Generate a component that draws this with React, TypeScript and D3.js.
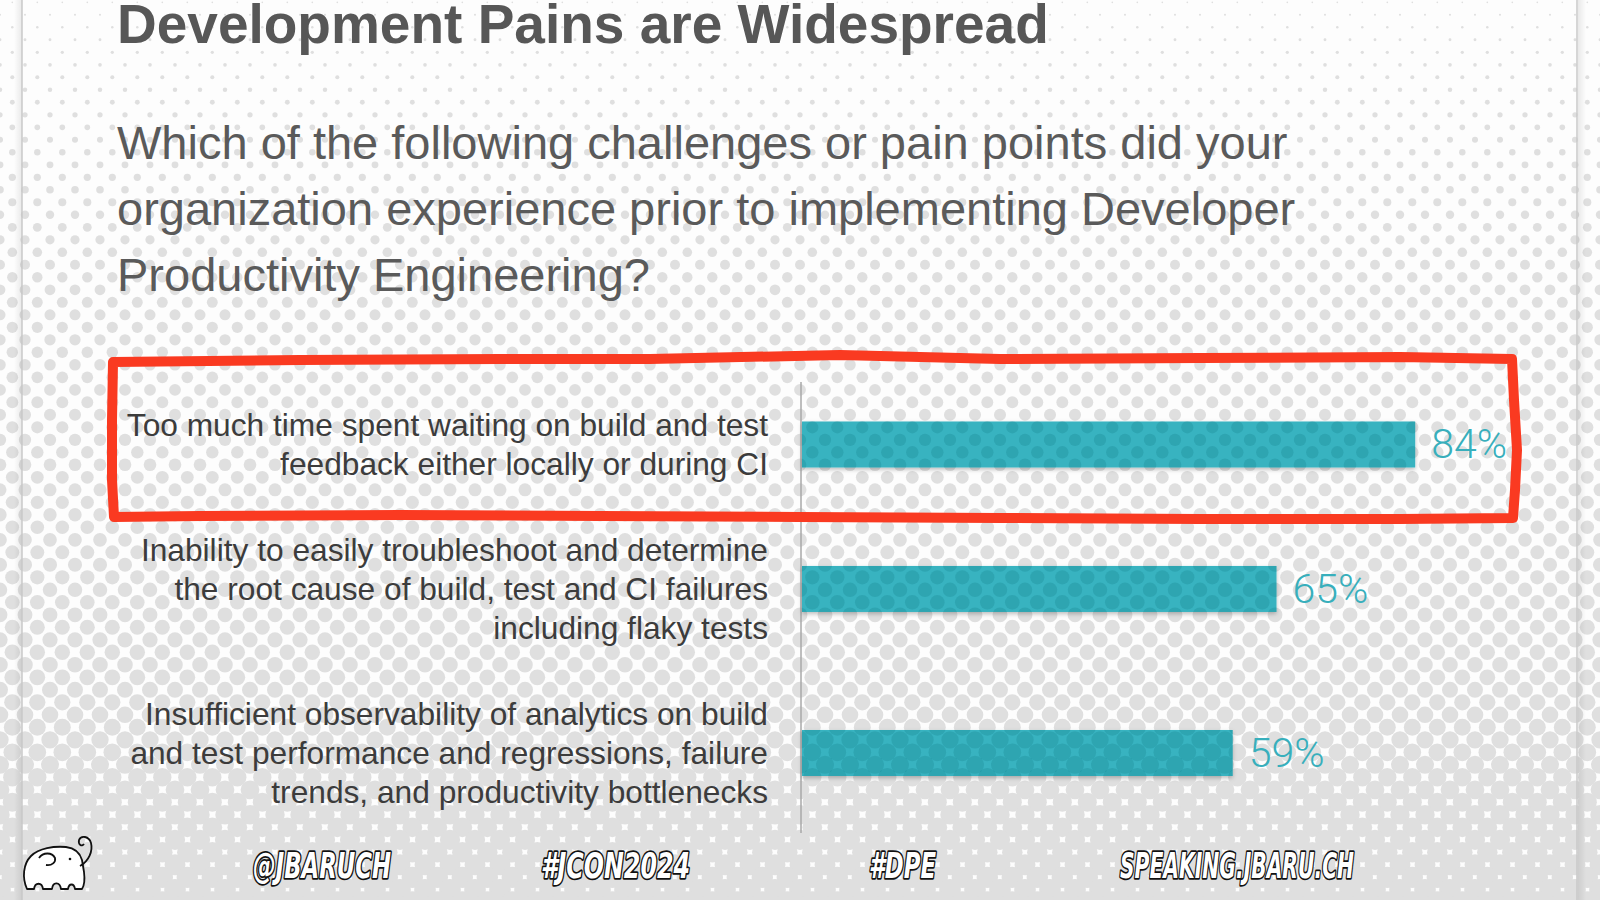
import React, { useMemo } from "react";
import * as d3 from "d3";

const W = 1600;
const H = 900;

// ---------- data ----------
const title = "Development Pains are Widespread";
const subtitleLines = [
  "Which of the following challenges or pain points did your",
  "organization experience prior to implementing Developer",
  "Productivity Engineering?",
];
const categoryLines: string[][] = [
  ["Too much time spent waiting on build and test", "feedback either locally or during CI"],
  ["Inability to easily troubleshoot and determine", "the root cause of build, test and CI failures", "including flaky tests"],
  ["Insufficient observability of analytics on build", "and test performance and regressions, failure", "trends, and productivity bottlenecks"],
];
const values = [84, 65, 59];
const footerTexts = ["@JBARUCH", "#JCON2024", "#DPE", "SPEAKING.JBARU.CH"];
const footerX = [253, 541, 869, 1120];
const footerW = [138, 149, 67, 234];

// hand-drawn highlight outline (reference points)
const highlightPts: [number, number][] = [
  [113, 362], [300, 360], [500, 359], [650, 359], [840, 355], [1000, 359], [1200, 358], [1400, 357], [1512, 359],
  [1514, 400], [1517, 450], [1515, 490], [1513, 518],
  [1400, 519], [1200, 519], [1000, 518], [800, 517], [600, 516], [400, 515], [200, 516], [114, 517],
  [112, 480], [112, 420],
];

// ---------- layout ----------
const GAP_UNITS = 1.2;
const totalUnits = categoryLines.reduce((s, l) => s + l.length + GAP_UNITS, 0);
const yUnit = d3.scaleLinear().domain([0, totalUnits]).range([382, 835]);
const x = d3.scaleLinear().domain([0, 100]).range([802, 1532]);
const LINE_H = yUnit(1) - yUnit(0);
const BAR_H = 46;

const centers: number[] = [];
{
  let acc = 0;
  categoryLines.forEach((l) => {
    const w = l.length + GAP_UNITS;
    centers.push(yUnit(acc + w / 2));
    acc += w;
  });
}

const dotRadius = d3
  .scaleLinear()
  .domain([0, 100, 290, 450, 600, 700, 800, 900])
  .range([0.8, 2.4, 5.4, 6.2, 7.3, 8.1, 9.5, 11])
  .clamp(true);

export default function App() {
  const dots = useMemo(() => {
    const out: { cx: number; cy: number; r: number }[] = [];
    for (let row = -1; row < 75; row++) {
      const cy = 2.3 + row * 12.5;
      const off = row % 2 === 0 ? 12.3 : 0;
      for (let c = -1; c < 66; c++) {
        const cx = off + c * 25;
        out.push({ cx, cy, r: dotRadius(cy) });
      }
    }
    return out;
  }, []);

  const barDots = dots.filter((d) => d.cy > 400 && d.cy < 800 && d.cx > 780 && d.cx < 1450);
  const hl = d3.line().curve(d3.curveLinearClosed)(highlightPts) || "";
  const font = "'Liberation Sans', Arial, Helvetica, sans-serif";

  return (
    <svg width={W} height={H} style={{ position: "absolute", left: 0, top: 0, background: "#fdfdfd" }}>
      <defs>
        <clipPath id="barClip">
          {values.map((v, i) => (
            <rect key={i} x={x(0)} y={centers[i] - BAR_H / 2} width={x(v) - x(0)} height={BAR_H} />
          ))}
        </clipPath>
        <filter id="shadow" x="-5%" y="-30%" width="110%" height="170%">
          <feDropShadow dx="0" dy="2" stdDeviation="2" floodColor="#000" floodOpacity="0.25" />
        </filter>
        <linearGradient id="edgeL" x1="0" x2="1">
          <stop offset="0" stopColor="#000" stopOpacity="0" />
          <stop offset="1" stopColor="#000" stopOpacity="0.08" />
        </linearGradient>
        <linearGradient id="edgeR" x1="0" x2="1">
          <stop offset="0" stopColor="#000" stopOpacity="0.08" />
          <stop offset="1" stopColor="#000" stopOpacity="0" />
        </linearGradient>
      </defs>

      {/* background halftone */}
      <g fill="#dfdfdf">
        {dots.map((d, i) => (
          <circle key={i} cx={d.cx} cy={d.cy} r={d.r} />
        ))}
      </g>

      {/* slide edges */}
      <rect x={14} y={0} width={8} height={H} fill="url(#edgeL)" />
      <line x1={22} x2={22} y1={0} y2={H} stroke="#c9c9c9" strokeWidth={1.5} />
      <rect x={1578} y={0} width={8} height={H} fill="url(#edgeR)" />
      <line x1={1577} x2={1577} y1={0} y2={H} stroke="#c9c9c9" strokeWidth={1.5} />

      {/* title */}
      <text x={117} y={43} fontFamily={font} fontWeight={700} fontSize={55} fill="#575757">
        {title}
      </text>
      {subtitleLines.map((s, i) => (
        <text key={i} x={117} y={159 + i * 66} fontFamily={font} fontSize={47} fill="#5a5a5a">
          {s}
        </text>
      ))}

      {/* axis line */}
      <line x1={x(0) - 1} x2={x(0) - 1} y1={yUnit(0)} y2={yUnit(totalUnits) - 2} stroke="#a9a9a9" strokeWidth={1.5} />

      {/* bars */}
      <g filter="url(#shadow)">
        {values.map((v, i) => (
          <rect key={i} x={x(0)} y={centers[i] - BAR_H / 2} width={x(v) - x(0)} height={BAR_H} fill="#39b3c0" />
        ))}
      </g>
      <g clipPath="url(#barClip)" fill="#0b6f7a" fillOpacity={0.2}>
        {barDots.map((d, i) => (
          <circle key={i} cx={d.cx} cy={d.cy} r={d.r} />
        ))}
      </g>

      {/* value labels */}
      {values.map((v, i) => (
        <text
          key={i}
          x={x(v) + 16}
          y={centers[i] + 14}
          fontFamily="Roboto, 'Liberation Sans', sans-serif"
          fontWeight={300}
          fontSize={41}
          fill="#38afbc"
        >
          {v}%
        </text>
      ))}

      {/* category labels */}
      {categoryLines.map((lines, i) =>
        lines.map((l, k) => (
          <text
            key={`${i}-${k}`}
            x={768}
            y={centers[i] + (k - (lines.length - 1) / 2) * LINE_H + 11}
            textAnchor="end"
            fontFamily={font}
            fontSize={31.7}
            fill="#3c3c3c"
          >
            {l}
          </text>
        ))
      )}

      {/* highlight */}
      <path d={hl} fill="none" stroke="#fa3a21" strokeWidth={10} strokeLinejoin="round" />

      {/* footer */}
      <g fill="#fff" stroke="#111" strokeWidth={1.8} strokeLinejoin="round">
        <path d="M27,889 C22,878 23,864 31,856 C39,848 54,846 66,847 C74,848 80,853 82,860 L84,872 C85,880 84,886 82,889 L75,889 C74,883 69,883 68,889 L61,889 C60,882 53,881 52,889 L43,889 C42,882 35,882 34,889 Z" />
        <path d="M80,866 C89,861 93,851 91,843 C89,836 81,835 79,840 C78,845 82,847 84,844" fill="none" />
        <path d="M39,858 C43,852 52,852 55,858 C56,862 52,866 46,865" fill="none" />
        <circle cx={70} cy={859} r={1.3} fill="#111" stroke="none" />
      </g>
      {footerTexts.map((t, i) => (
        <text
          key={i}
          x={footerX[i]}
          y={878}
          textLength={footerW[i]}
          lengthAdjust="spacingAndGlyphs"
          fontFamily="'DejaVu Sans Condensed', 'DejaVu Sans', sans-serif"
          fontWeight={700}
          fontStyle="italic"
          fontSize={36}
          fill="#fff"
          stroke="#111"
          strokeWidth={3.5}
          strokeLinejoin="round"
          style={{ paintOrder: "stroke" }}
        >
          {t}
        </text>
      ))}
    </svg>
  );
}
